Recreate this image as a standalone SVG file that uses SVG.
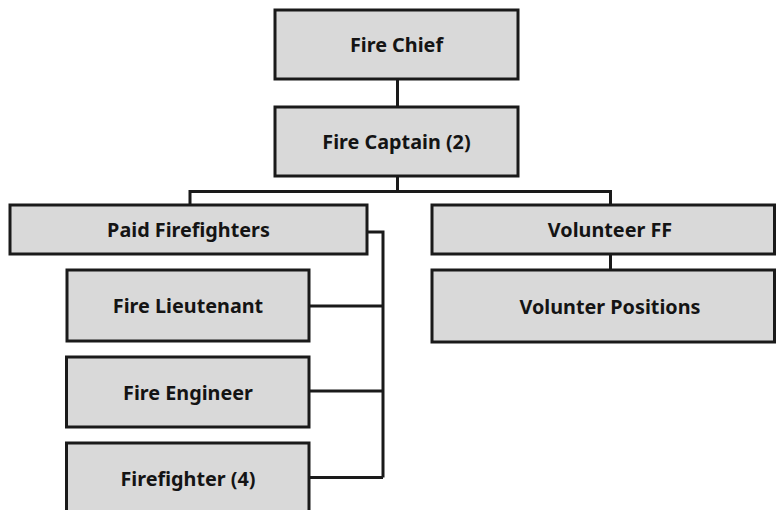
<svg xmlns="http://www.w3.org/2000/svg" width="776" height="510" viewBox="0 0 776 510">
<style>
.box{fill:#d9d9d9;stroke:#1a1a1a;stroke-width:3}
.lbl{font-family:"Noto Sans","Liberation Sans",sans-serif;font-weight:700;font-size:19.8px;fill:#141414;text-anchor:middle;dominant-baseline:central}
.conn{fill:none;stroke:#1a1a1a;stroke-width:3}
</style>
<rect width="776" height="510" fill="#ffffff"/>
<g id="connectors">
<path class="conn" d="M397.5 79 V107"/>
<path class="conn" d="M397.5 176 V191.5 M190 191.5 H610.5 M190 190 V205 M610.5 190 V205"/>
<path class="conn" d="M610.5 254 V270"/>
<path class="conn" d="M367 232 H383 V477.5 M309 306 H383 M309 391 H383 M309 477.5 H383"/>
</g>
<g id="fire-chief"><rect class="box" x="275" y="10" width="243" height="69"/><text class="lbl" x="396.5" y="44.5">Fire Chief</text></g>
<g id="fire-captain"><rect class="box" x="275" y="107" width="243" height="69"/><text class="lbl" x="396.5" y="141.5">Fire Captain (2)</text></g>
<g id="paid-firefighters"><rect class="box" x="10" y="205" width="357" height="49"/><text class="lbl" x="188.5" y="229.5">Paid Firefighters</text></g>
<g id="volunteer-ff"><rect class="box" x="432" y="205" width="342.5" height="49"/><text class="lbl" x="610" y="229.5">Volunteer FF</text></g>
<g id="fire-lieutenant"><rect class="box" x="67" y="270" width="242" height="71"/><text class="lbl" x="188" y="305.5">Fire Lieutenant</text></g>
<g id="volunter-positions"><rect class="box" x="432" y="270" width="342.5" height="72"/><text class="lbl" x="610" y="306">Volunter Positions</text></g>
<g id="fire-engineer"><rect class="box" x="66.5" y="357" width="242.5" height="70"/><text class="lbl" x="188" y="392">Fire Engineer</text></g>
<g id="firefighter"><rect class="box" x="66.5" y="443" width="242.5" height="70"/><text class="lbl" x="188" y="478">Firefighter (4)</text></g>
</svg>
